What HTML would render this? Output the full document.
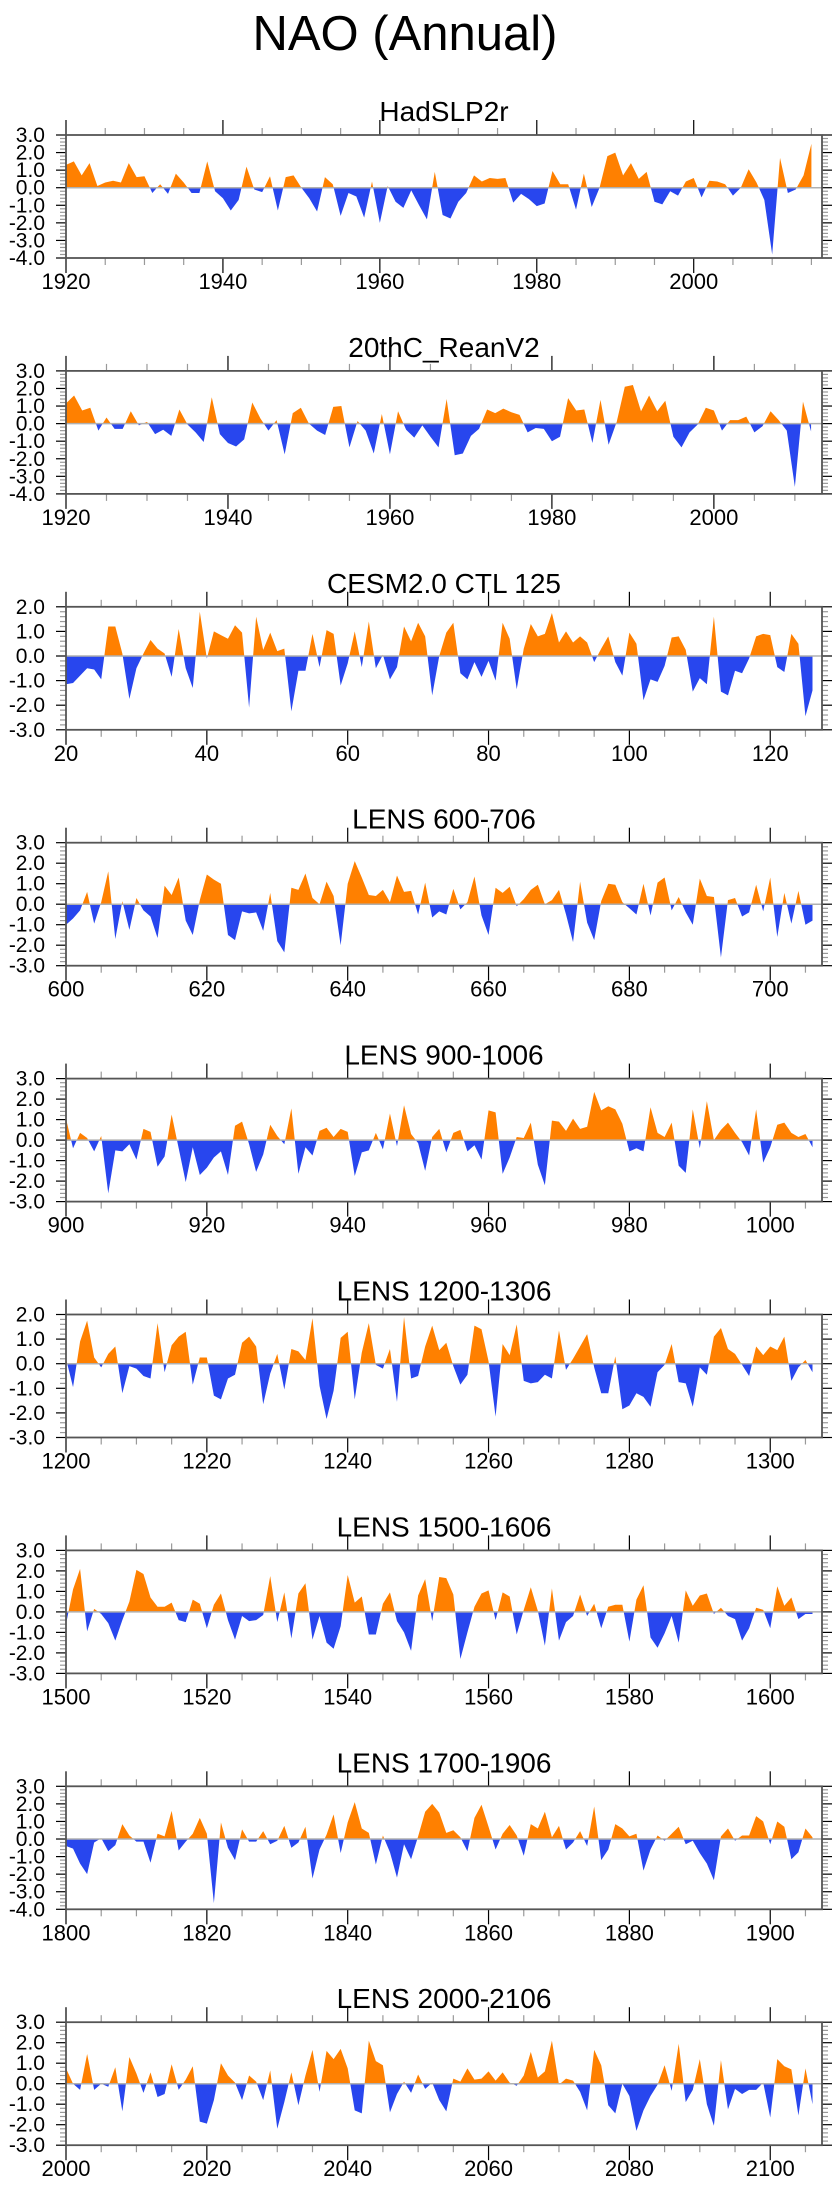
<!DOCTYPE html>
<html><head><meta charset="utf-8"><style>
html,body{margin:0;padding:0;background:#fff;}
svg{display:block;font-family:"Liberation Sans",sans-serif;}
</style></head><body>
<svg id="chart" width="840" height="2200" viewBox="0 0 840 2200" xmlns="http://www.w3.org/2000/svg">
<text x="405" y="50" font-size="49" text-anchor="middle" fill="#000">NAO (Annual)</text>
</svg>
<script>
const titles = ["HadSLP2r","20thC_ReanV2","CESM2.0 CTL 125","LENS 600-706","LENS 900-1006","LENS 1200-1306","LENS 1500-1606","LENS 1700-1906","LENS 2000-2106"];
const startYears = [1920,1920,20,600,900,1200,1500,1800,2000];
const yMins = [-4,-4,-3,-3,-3,-3,-3,-4,-3];
const yMaxs = [3,3,2,3,3,2,3,3,3];
const tickStarts = [1920,1920,20,600,900,1200,1500,1800,2000];
const s1 = [1.3,1.5,0.7,1.4,0.1,0.3,0.4,0.3,1.4,0.6,0.65,-0.3,0.2,-0.35,0.8,0.3,-0.3,-0.3,1.5,-0.2,-0.6,-1.3,-0.7,1.2,-0.1,-0.25,0.65,-1.3,0.6,0.7,0.0,-0.6,-1.35,0.6,0.2,-1.6,-0.3,-0.5,-1.7,0.35,-2.0,0.1,-0.8,-1.15,-0.15,-1.0,-1.8,0.9,-1.55,-1.75,-0.8,-0.3,0.7,0.35,0.55,0.5,0.55,-0.85,-0.35,-0.65,-1.05,-0.9,0.95,0.2,0.2,-1.25,0.8,-1.1,0.0,1.8,2.0,0.7,1.4,0.5,0.9,-0.8,-0.95,-0.2,-0.45,0.35,0.55,-0.55,0.4,0.35,0.2,-0.45,0.0,1.05,0.3,-0.7,-3.8,1.7,-0.3,-0.1,0.7,2.5];
const s2 = [1.15,1.6,0.75,0.9,-0.4,0.35,-0.3,-0.3,0.7,-0.1,0.1,-0.6,-0.35,-0.7,0.8,-0.05,-0.5,-1.05,1.5,-0.6,-1.1,-1.3,-0.9,1.2,0.3,-0.4,0.2,-1.75,0.6,0.9,0.0,-0.4,-0.65,0.95,1.0,-1.35,0.15,-0.4,-1.7,0.55,-1.75,0.7,-0.35,-0.8,-0.1,-0.75,-1.35,1.4,-1.8,-1.7,-0.7,-0.3,0.8,0.6,0.85,0.65,0.5,-0.5,-0.25,-0.3,-1.0,-0.75,1.45,0.75,0.8,-1.1,1.35,-1.2,0.1,2.1,2.2,0.7,1.6,0.7,1.3,-0.75,-1.35,-0.5,-0.05,0.9,0.75,-0.4,0.2,0.2,0.4,-0.5,-0.15,0.7,0.2,-0.4,-3.6,1.25,-0.45];
const s3 = [-1.15,-1.1,-0.8,-0.5,-0.55,-0.95,1.2,1.2,0.1,-1.75,-0.5,0.1,0.65,0.3,0.1,-0.85,1.1,-0.5,-1.3,1.8,-0.1,1.0,0.85,0.7,1.25,0.95,-2.1,1.6,0.25,0.95,0.2,0.3,-2.25,-0.6,-0.6,0.9,-0.45,1.05,0.9,-1.2,-0.3,1.0,-0.45,1.4,-0.5,0.05,-0.95,-0.45,1.2,0.6,1.35,0.8,-1.6,0.0,0.95,1.35,-0.7,-0.95,-0.25,-0.85,-0.2,-1.0,1.35,0.7,-1.35,0.3,1.3,0.8,0.9,1.75,0.55,1.0,0.55,0.8,0.55,-0.25,0.3,0.8,-0.25,-0.8,0.95,0.5,-1.8,-0.95,-1.05,-0.4,0.75,0.8,0.25,-1.45,-0.9,-1.15,1.6,-1.45,-1.6,-0.6,-0.7,-0.1,0.8,0.9,0.85,-0.45,-0.65,0.9,0.5,-2.45,-1.4];
const s4 = [-1.0,-0.7,-0.3,0.6,-0.95,0.1,1.6,-1.7,0.15,-1.25,0.3,-0.3,-0.6,-1.65,0.9,0.45,1.3,-0.8,-1.5,0.2,1.45,1.2,1.0,-1.5,-1.75,-0.35,-0.45,-0.4,-1.3,0.55,-1.8,-2.35,0.8,0.7,1.5,0.3,0.0,1.1,0.4,-2.0,1.0,2.1,1.3,0.45,0.4,0.7,0.1,1.4,0.6,0.65,-0.5,1.05,-0.65,-0.35,-0.5,0.75,-0.25,0.1,1.35,-0.55,-1.5,0.8,0.55,0.85,-0.1,0.25,0.7,0.95,0.0,0.2,0.7,-0.5,-1.85,1.1,-0.9,-1.75,0.15,1.0,0.95,0.1,-0.2,-0.5,1.0,-0.55,1.05,1.3,-0.3,0.35,-0.4,-1.0,1.25,0.4,0.35,-2.6,0.2,0.3,-0.6,-0.4,0.95,-0.35,1.3,-1.6,0.55,-0.95,0.65,-1.0,-0.8];
const s5 = [1.05,-0.4,0.35,0.1,-0.55,0.2,-2.6,-0.5,-0.55,-0.2,-0.95,0.55,0.4,-1.3,-0.8,1.25,-0.4,-2.05,-0.35,-1.7,-1.35,-0.85,-0.55,-1.7,0.7,0.9,-0.2,-1.55,-0.7,0.75,0.2,-0.2,1.55,-1.65,-0.35,-0.75,0.45,0.6,0.15,0.55,0.4,-1.75,-0.6,-0.5,0.35,-0.45,1.3,-0.3,1.7,0.3,-0.15,-1.5,0.15,0.55,-0.6,0.35,0.5,-0.55,-0.25,-0.95,1.45,1.35,-1.65,-0.85,0.15,0.1,0.85,-1.2,-2.2,0.95,0.9,0.45,1.05,0.55,0.65,2.35,1.45,1.65,1.5,0.8,-0.55,-0.4,-0.55,1.6,0.35,0.15,0.85,-1.25,-1.6,1.5,-0.4,1.9,0.0,0.5,0.85,0.35,-0.1,-0.75,1.5,-1.1,-0.35,0.75,0.85,0.35,0.15,0.3,-0.35];
const s6 = [0.2,-0.95,0.9,1.75,0.25,-0.15,0.4,0.7,-1.2,-0.1,-0.2,-0.5,-0.6,1.65,-0.35,0.75,1.1,1.3,-0.85,0.25,0.25,-1.3,-1.45,-0.6,-0.45,0.85,1.1,0.7,-1.65,-0.4,0.4,-1.05,0.6,0.5,0.15,1.85,-0.9,-2.25,-1.1,1.05,1.3,-1.45,0.45,1.65,-0.05,-0.2,0.6,-1.55,1.9,-0.6,-0.5,0.7,1.55,0.55,0.85,-0.1,-0.85,-0.45,1.55,1.4,0.1,-2.15,0.8,0.35,1.6,-0.7,-0.8,-0.75,-0.45,-0.6,1.35,-0.25,0.2,0.7,1.2,-0.15,-1.2,-1.2,0.3,-1.85,-1.7,-1.2,-1.35,-1.75,-0.35,-0.05,0.8,-0.75,-0.8,-1.75,-0.15,-0.45,1.1,1.45,0.6,0.4,-0.05,-0.5,0.7,0.35,0.7,0.55,1.1,-0.7,-0.15,0.15,-0.35];
const s7 = [-0.6,1.1,2.1,-0.95,0.15,-0.1,-0.55,-1.4,-0.4,0.5,2.05,1.85,0.7,0.25,0.25,0.45,-0.4,-0.5,0.6,0.4,-0.8,0.35,0.9,-0.4,-1.35,-0.2,-0.45,-0.4,-0.15,1.75,-0.5,0.95,-1.3,0.9,1.4,-1.35,-0.2,-1.5,-1.8,-0.7,1.8,0.45,0.75,-1.1,-1.1,0.4,0.95,-0.45,-1.0,-1.9,0.8,1.6,-0.45,1.7,1.65,0.85,-2.3,-1.0,0.25,0.9,1.05,-0.4,0.95,0.75,-1.1,0.1,1.2,0.05,-1.65,1.15,-1.4,-0.5,-0.2,0.85,-0.2,0.4,-0.8,0.25,0.35,0.35,-1.45,0.6,1.3,-1.25,-1.75,-1.05,-0.2,-1.5,1.05,0.3,0.8,0.9,-0.1,0.2,-0.2,-0.35,-1.4,-0.8,0.2,0.1,-0.8,1.25,0.3,0.7,-0.35,-0.1,-0.1];
const s8 = [-0.4,-0.55,-1.4,-2.0,-0.2,0.05,-0.7,-0.35,0.85,0.2,-0.15,-0.15,-1.35,0.3,0.15,1.6,-0.65,-0.15,0.3,1.2,0.3,-3.65,0.95,-0.5,-1.2,0.55,-0.15,-0.15,0.45,-0.3,-0.1,0.75,-0.5,-0.2,0.7,-2.25,-0.6,0.25,1.4,-0.8,0.95,2.1,0.6,0.35,-1.45,0.2,-0.75,-2.2,-0.3,-1.15,0.15,1.55,2.0,1.5,0.35,0.5,0.1,-0.7,1.2,1.95,0.7,-0.6,0.3,0.8,0.2,-0.95,0.85,0.6,1.55,0.1,0.75,-0.6,-0.2,0.45,-0.4,1.85,-1.2,-0.6,0.85,0.6,0.15,0.3,-1.8,-0.6,0.2,-0.1,0.3,0.7,-0.3,-0.1,-0.8,-1.4,-2.35,0.15,0.6,-0.1,0.2,0.2,1.3,1.0,-0.3,1.0,0.7,-1.15,-0.75,0.6,0.1];
const s9 = [0.75,0.0,-0.3,1.45,-0.3,0.0,-0.15,0.8,-1.35,1.3,0.5,-0.45,0.55,-0.65,-0.5,0.95,-0.3,0.2,0.85,-1.85,-1.95,-0.8,1.0,0.4,0.05,-0.8,0.4,0.1,-0.8,0.65,-2.2,-0.9,0.55,-1.05,0.4,1.65,-0.4,1.6,1.2,1.7,0.75,-1.3,-1.45,2.1,1.1,0.9,-1.4,-0.5,0.1,-0.45,0.45,-0.25,0.05,-0.8,-1.35,0.25,0.1,0.75,0.2,0.25,0.6,0.15,0.55,0.05,-0.1,0.4,1.55,0.3,0.6,2.1,-0.05,0.25,0.15,-0.4,-1.3,1.65,0.9,-1.05,-1.45,0.0,-0.6,-2.3,-1.3,-0.6,-0.05,0.9,-0.35,1.95,-0.9,-0.3,1.2,-1.0,-2.05,1.15,-1.25,-0.25,-0.5,-0.3,-0.3,0.05,-1.65,1.2,0.85,0.7,-1.55,0.75,-1.0];
const seriesList = [s1,s2,s3,s4,s5,s6,s7,s8,s9];

const NS = "http://www.w3.org/2000/svg";
const svg = document.getElementById("chart");
const L = 66, R = 822, H = 123;
function mk(tag, attrs, parent){ const e=document.createElementNS(NS,tag); for(const k in attrs) e.setAttribute(k,attrs[k]); (parent||svg).appendChild(e); return e; }

for (let p = 0; p < 9; p++) {
  const top = 135 + 235.9 * p, bot = top + H;
  const vals = seriesList[p];
  const x0 = startYears[p], x1 = x0 + vals.length - 1 + 1.35;
  const ymin = yMins[p], ymax = yMaxs[p];
  const xs = v => L + (v - x0) / (x1 - x0) * (R - L);
  const ys = v => bot - (v - ymin) / (ymax - ymin) * H;
  const g = mk("g", {});
  
  
  const t = mk("text", {x: (L + R) / 2, y: top - 14, "font-size": 28, "text-anchor": "middle", fill: "#000"}, g);
  
  
  t.textContent = titles[p];
  const zy = ys(0);
  let d = "M" + xs(x0) + "," + zy;
  vals.forEach((v, i) => { d += " L" + xs(x0 + i).toFixed(2) + "," + ys(v).toFixed(2); });
  d += " L" + xs(x0 + vals.length - 1).toFixed(2) + "," + zy + " Z";
  const cpP = mk("clipPath", {id: "cp" + p}, g); mk("rect", {x: L, y: top, width: R - L, height: zy - top}, cpP);
  const cpN = mk("clipPath", {id: "cn" + p}, g); mk("rect", {x: L, y: zy, width: R - L, height: bot - zy}, cpN);
  const pos = mk("path", {d: d, fill: "#FF8000", "clip-path": "url(#cp" + p + ")"}, g);
  
  
  const neg = mk("path", {d: d, fill: "#2846EE", "clip-path": "url(#cn" + p + ")"}, g);
  
  
  const zl = mk("line", {x1: L, x2: R, y1: zy, y2: zy, stroke: "#b0b0b0", "stroke-width": 1.5}, g);
  
  
  for (let v = ymin; v <= ymax + 1e-9; v += 0.2) {
    const y = ys(v), major = Math.abs(v - Math.round(v)) < 1e-6;
    const len = major ? 10 : 6, col = major ? "#000" : "#999";
    mk("line", {x1: L - len, x2: L, y1: y, y2: y, stroke: col, "stroke-width": 1.2}, g);
    mk("line", {x1: R, x2: R + len, y1: y, y2: y, stroke: col, "stroke-width": 1.2}, g);
    if (major) {
      const yl = mk("text", {x: L - 21, y: y + 7, "font-size": 21, "text-anchor": "end", fill: "#000"}, g);
      
      
      yl.textContent = Math.round(v).toFixed(1);
    }
  }
  for (let v = tickStarts[p]; v <= x1; v += 5) {
    const x = xs(v), major = (v - tickStarts[p]) % 20 === 0;
    const len = major ? 15 : 7, col = major ? "#000" : "#999";
    mk("line", {x1: x, x2: x, y1: bot, y2: bot + len, stroke: col, "stroke-width": 1.2}, g);
    mk("line", {x1: x, x2: x, y1: top - len, y2: top, stroke: col, "stroke-width": 1.2}, g);
    if (major) {
      const xl = mk("text", {x: x, y: bot + 31, "font-size": 22, "text-anchor": "middle", fill: "#000"}, g);
      
      
      xl.textContent = v;
    }
  }
  const fr = mk("rect", {x: L, y: top, width: R - L, height: H, fill: "none", stroke: "#555", "stroke-width": 1.8}, g);
  
  
}
</script>
</body></html>
